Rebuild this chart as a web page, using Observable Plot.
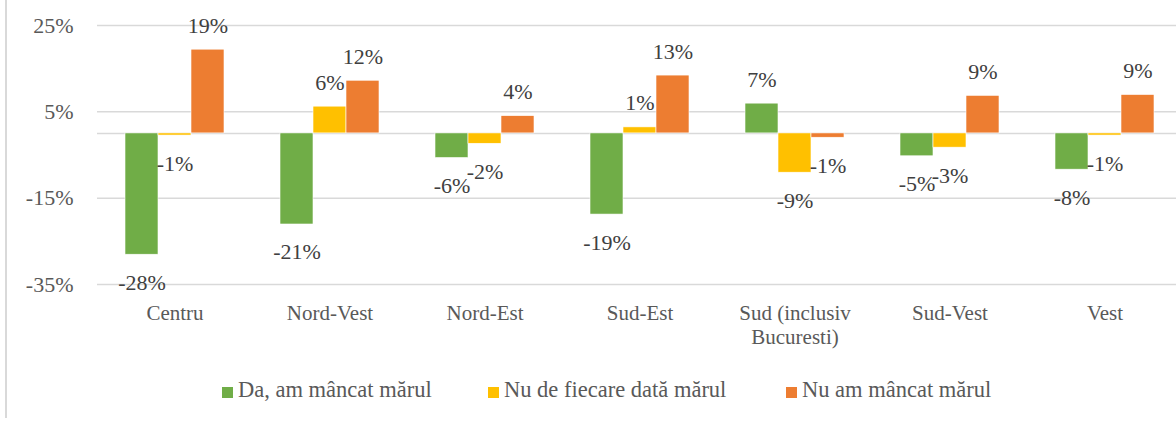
<!DOCTYPE html>
<html>
<head>
<meta charset="utf-8">
<script src="https://cdn.jsdelivr.net/npm/d3@7"></script>
<script src="https://cdn.jsdelivr.net/npm/@observablehq/plot@0.6"></script>
<style>
  html, body { margin: 0; padding: 0; background: #fff; }
  body { width: 1176px; height: 422px; overflow: hidden; position: relative; font-family: "Liberation Serif", Tinos, "DejaVu Serif", serif; }
  #border { position: absolute; left: 5px; top: 0; width: 1.5px; height: 418px; background: #d9d9d9; }
  #chart { position: absolute; left: 0; top: 0; }
  #legend { position: absolute; top: 379px; left: 0; width: 1176px; height: 24px; font-size: 22.5px; line-height: 22px; color: #595959; white-space: nowrap; }
  .item { position: absolute; top: 0; display: flex; align-items: center; }
  .item:nth-child(1) { left: 222px; }
  .item:nth-child(2) { left: 488px; }
  .item:nth-child(3) { left: 786px; }
  .sw { width: 11px; height: 11px; margin-right: 5px; position: relative; top: 2px; }
  svg text { font-family: "Liberation Serif", Tinos, "DejaVu Serif", serif; }
</style>
</head>
<body>
<div id="border"></div>
<div id="chart"></div>
<div id="legend"></div>
<script>
const categories = ["Centru", "Nord-Vest", "Nord-Est", "Sud-Est", "Sud (inclusiv\nBucuresti)", "Sud-Vest", "Vest"];
const series = ["Da, am mâncat mărul", "Nu de fiecare dată mărul", "Nu am mâncat mărul"];
const colors = ["#70AD47", "#FFC000", "#ED7D31"];

const daValues        = [-28.1, -21.1, -5.7, -18.8, 6.9, -5.3, -8.4];
const nuFiecareValues = [-0.5, 6.2, -2.4, 1.4, -9.1, -3.3, -0.5];
const nuAmValues      = [19.4, 12.2, 4.0, 13.4, -1.0, 8.7, 8.9];

const daLabels        = ["-28%", "-21%", "-6%", "-19%", "7%", "-5%", "-8%"];
const nuFiecareLabels = ["-1%", "6%", "-2%", "1%", "-9%", "-3%", "-1%"];
const nuAmLabels      = ["19%", "12%", "4%", "13%", "-1%", "9%", "9%"];

const yTicks = [-35, -15, 5, 25];

const valueSets = [daValues, nuFiecareValues, nuAmValues];
const labelSets = [daLabels, nuFiecareLabels, nuAmLabels];
const rows = [];
categories.forEach((c, i) => {
  series.forEach((s, j) => {
    rows.push({cat: c, series: s, value: valueSets[j][i], label: labelSets[j][i]});
  });
});

const chart = Plot.plot({
  width: 1176,
  height: 360,
  marginLeft: 97,
  marginRight: -6,
  marginTop: 25,
  marginBottom: 76,
  style: {fontFamily: "'Liberation Serif', Tinos, 'DejaVu Serif', serif", fontSize: "22px", color: "#595959", background: "transparent"},
  fx: {domain: categories, padding: 0, axis: null, label: null},
  x: {domain: series, paddingInner: 0, paddingOuter: 0.78, axis: null},
  y: {domain: [-35, 25], ticks: yTicks, tickFormat: d => d + "%", tickSize: 0, tickPadding: 24, label: null},
  color: {domain: series, range: colors},
  marks: [
    Plot.ruleY(yTicks, {stroke: "#d9d9d9", strokeWidth: 1.5}),
    Plot.ruleY([0], {stroke: "#d9d9d9", strokeWidth: 1.5}),
    Plot.barY(rows, {fx: "cat", x: "series", y: "value", fill: "series", stroke: "#fff", strokeWidth: 0.6}),
    Plot.text(rows.filter(d => d.value >= 0), {fx: "cat", x: "series", y: "value", text: "label", lineAnchor: "bottom", dy: -17, fill: "#404040"}),
    Plot.text(rows.filter(d => d.value < 0), {fx: "cat", x: "series", y: "value", text: "label", lineAnchor: "bottom", dy: 35, fill: "#404040"}),
    Plot.text(categories, {fx: d => d, text: d => d, frameAnchor: "bottom", lineAnchor: "top", dy: 19, fontSize: 21, lineHeight: 1.12, fill: "#595959"})
  ]
});
document.getElementById("chart").appendChild(chart);

const legend = document.getElementById("legend");
series.forEach((s, i) => {
  const item = document.createElement("div");
  item.className = "item";
  const sw = document.createElement("span");
  sw.className = "sw";
  sw.style.background = colors[i];
  const t = document.createElement("span");
  t.textContent = s;
  item.appendChild(sw);
  item.appendChild(t);
  legend.appendChild(item);
});
</script>
</body>
</html>
